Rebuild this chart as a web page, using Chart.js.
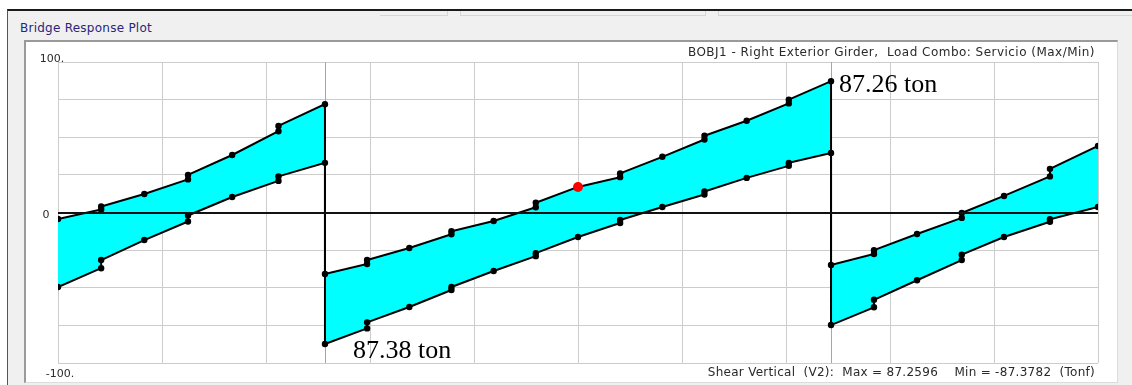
<!DOCTYPE html>
<html><head><meta charset="utf-8">
<script src="https://cdn.jsdelivr.net/npm/chart.js@4"></script>
<style>
html,body{margin:0;padding:0;width:1132px;height:385px;overflow:hidden;background:#fff;}
#win{position:absolute;left:7px;top:9px;width:1125px;height:376px;background:#f0f0f0;border-top:2px solid #1a1a1a;border-left:1px solid #555;box-sizing:border-box;}
#cap{position:absolute;left:20px;top:21px;font:12px "DejaVu Sans",sans-serif;letter-spacing:0.25px;color:#26267c;white-space:nowrap;}
#frame{position:absolute;left:24px;top:40px;width:1094px;height:343px;background:#fff;border-top:2px solid #9a9a9a;border-left:2px solid #9a9a9a;border-right:1px solid #dcdcdc;border-bottom:1px solid #dcdcdc;box-sizing:border-box;}
.tab{position:absolute;background:#d6d6d6;}
#c{position:absolute;left:0;top:0;}
</style></head>
<body>
<div id="win"></div>
<div class="tab" style="left:380px;top:15px;width:67px;height:1px"></div>
<div class="tab" style="left:447px;top:11px;width:1px;height:5px"></div>
<div class="tab" style="left:460px;top:11px;width:1px;height:5px"></div>
<div class="tab" style="left:460px;top:15px;width:245px;height:1px"></div>
<div class="tab" style="left:705px;top:11px;width:1px;height:5px"></div>
<div class="tab" style="left:718px;top:11px;width:1px;height:5px"></div>
<div class="tab" style="left:718px;top:15px;width:414px;height:1px"></div>
<div id="cap">Bridge Response Plot</div>
<div id="frame"></div>
<canvas id="c" width="1132" height="385"></canvas>
<script>
// ---- data (stations along the bridge, repeated where the envelope jumps) ----
const stations = [
  0, 4.15, 4.15, 8.3, 12.5, 12.5, 16.75, 21.2, 21.2, 25.67,
  25.67, 29.72, 29.72, 33.78, 37.83, 37.83, 41.89, 45.94, 45.94, 50.0,
  54.05, 54.05, 58.11, 62.16, 62.16, 66.22, 70.27, 70.27, 74.33,
  74.33, 78.46, 78.46, 82.6, 86.9, 86.9, 90.96, 95.38, 95.38, 100
];
const shearMax = [
  -4.3, 2.0, 4.0, 12.3, 22.0, 25.0, 38.2, 54.0, 57.5, 72.0,
  -40.9, -34.2, -31.6, -23.6, -14.5, -12.5, -5.6, 3.5, 6.5, 17.0,
  23.5, 26.0, 37.0, 48.5, 51.0, 61.0, 72.5, 75.0, 87.26,
  -34.9, -27.6, -25.0, -14.3, -3.6, -0.3, 11.0, 24.0, 29.0, 44.2
];
const shearMin = [
  -49.5, -37.0, -31.6, -18.3, -6.0, -2.0, 10.3, 21.0, 24.0, 33.0,
  -87.38, -77.0, -73.0, -62.8, -51.5, -49.5, -38.9, -29.0, -27.0, -16.3,
  -7.0, -5.0, 3.7, 12.0, 14.0, 23.0, 31.0, 33.0, 39.5,
  -74.8, -63.0, -58.0, -45.0, -31.6, -28.0, -16.3, -6.1, -4.5, 3.7
];
const supports = [25.67, 74.33];
const markerX = [50.0];
const markerY = [17.0];
const yLabelValues = [100, 0, -100];
const yLabelTexts = ['100.', '0', '-100.'];
const plotTitle = 'BOBJ1 - Right Exterior Girder,  Load Combo: Servicio (Max/Min)';
const plotFooter = 'Shear Vertical  (V2):  Max = 87.2596    Min = -87.3782  (Tonf)';
const maxLabel = '87.26 ton';
const minLabel = '87.38 ton';

function fitText(ctx, text, xRight, yMid, width) {
  ctx.letterSpacing = '0px';
  const w = ctx.measureText(text).width;
  const sp = Math.max(0, (width - w) / text.length);
  ctx.letterSpacing = sp.toFixed(2) + 'px';
  ctx.fillText(text, xRight, yMid);
  ctx.letterSpacing = '0px';
}

const deco = {
  id: 'deco',
  beforeDatasetsDraw(chart) {
    const {ctx, chartArea: a, scales: {x}} = chart;
    ctx.save();
    ctx.strokeStyle = '#b4b43c';
    ctx.lineWidth = 1;
    supports.forEach(s => {
      const px = Math.round(x.getPixelForValue(s)) + 0.5;
      ctx.beginPath(); ctx.moveTo(px, a.top); ctx.lineTo(px, a.bottom); ctx.stroke();
    });
    ctx.restore();
  },
  afterDatasetsDraw(chart) {
    const {ctx, chartArea: a, scales: {y}} = chart;
    ctx.save();
    ctx.strokeStyle = '#111';
    ctx.lineWidth = 2;
    const py = Math.round(y.getPixelForValue(0));
    ctx.beginPath(); ctx.moveTo(a.left, py); ctx.lineTo(a.right, py); ctx.stroke();
    ctx.restore();
  },
  afterDraw(chart) {
    const {ctx, chartArea: a, scales: {x, y}} = chart;
    ctx.save();
    ctx.fillStyle = '#2a2a2a';
    ctx.font = '12px "DejaVu Sans", sans-serif';
    ctx.textBaseline = 'middle';
    ctx.textAlign = 'right';
    fitText(ctx, plotTitle, a.right - 3, a.top - 9, 407);
    fitText(ctx, plotFooter, a.right - 3, a.bottom + 10, 387);
    ctx.font = '11px "DejaVu Sans", sans-serif';
    ctx.textAlign = 'center';
    const offs = [[-6, -3], [-12, 3], [2, 11]];
    yLabelValues.forEach((v, i) => {
      ctx.fillText(yLabelTexts[i], a.left + offs[i][0], y.getPixelForValue(v) + offs[i][1]);
    });
    // peak annotations
    ctx.fillStyle = '#000';
    ctx.font = '26px "Liberation Serif", "Times New Roman", serif';
    ctx.textAlign = 'left';
    ctx.textBaseline = 'alphabetic';
    const iMax = shearMax.indexOf(Math.max(...shearMax));
    const iMin = shearMin.indexOf(Math.min(...shearMin));
    ctx.fillText(maxLabel, x.getPixelForValue(stations[iMax]) + 8, y.getPixelForValue(shearMax[iMax]) + 11);
    ctx.fillText(minLabel, x.getPixelForValue(stations[iMin]) + 28, y.getPixelForValue(shearMin[iMin]) + 14);
    ctx.restore();
  }
};

new Chart(document.getElementById('c'), {
  type: 'line',
  data: {
    datasets: [
      {
        label: 'marker',
        data: markerX.map((v, i) => ({x: v, y: markerY[i]})),
        showLine: false,
        pointRadius: 5,
        pointBackgroundColor: '#ff0000',
        pointBorderColor: '#ff0000',
        borderWidth: 0
      },
      {
        label: 'Max',
        data: stations.map((v, i) => ({x: v, y: shearMax[i]})),
        borderColor: '#000',
        borderWidth: 2,
        pointRadius: 3.2,
        pointBackgroundColor: '#000',
        pointBorderColor: '#000',
        pointBorderWidth: 0,
        backgroundColor: '#00ffff',
        fill: '+1',
        tension: 0
      },
      {
        label: 'Min',
        data: stations.map((v, i) => ({x: v, y: shearMin[i]})),
        borderColor: '#000',
        borderWidth: 2,
        pointRadius: 3.2,
        pointBackgroundColor: '#000',
        pointBorderColor: '#000',
        pointBorderWidth: 0,
        fill: false,
        tension: 0
      }
    ]
  },
  options: {
    responsive: false,
    animation: false,
    layout: {padding: {left: 58, right: 34, top: 62, bottom: 22}},
    plugins: {
      legend: {display: false},
      tooltip: {enabled: false},
      filler: {drawTime: 'beforeDatasetsDraw'}
    },
    scales: {
      x: {
        type: 'linear', min: 0, max: 100,
        ticks: {display: false, stepSize: 10},
        grid: {color: '#cccccc', lineWidth: 1, drawTicks: false},
        border: {display: false}
      },
      y: {
        type: 'linear', min: -100, max: 100,
        ticks: {display: false, stepSize: 25},
        grid: {color: '#cccccc', lineWidth: 1, drawTicks: false},
        border: {display: false}
      }
    }
  },
  plugins: [deco]
});
</script>
</body></html>
